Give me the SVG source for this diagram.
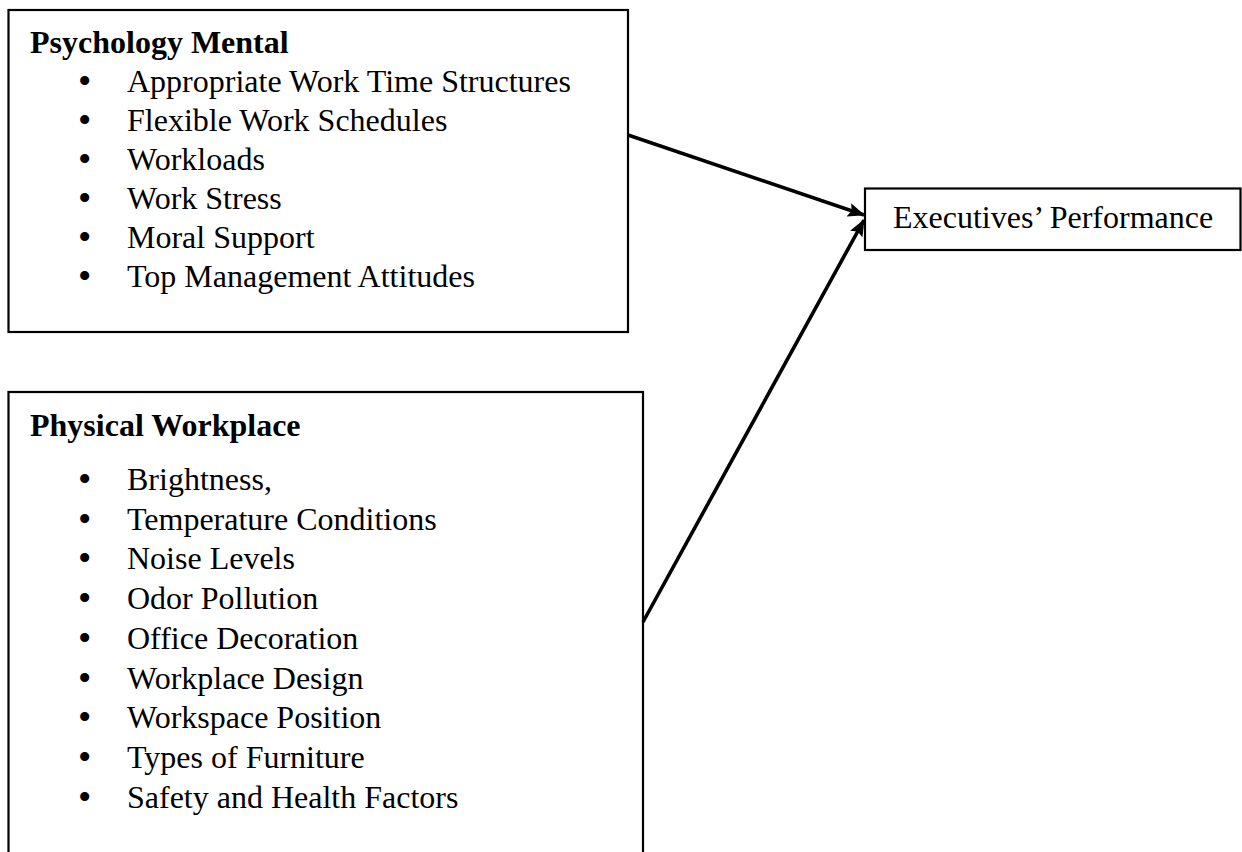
<svg xmlns="http://www.w3.org/2000/svg" width="1242" height="852" viewBox="0 0 1242 852">
<style>
.box{fill:#fff;stroke:#000;stroke-width:2.2}
.t{font-family:"Liberation Serif","Times New Roman",serif;font-size:32px;fill:#000}
.b{font-weight:bold}
.bl{font-family:"Liberation Serif","Times New Roman",serif;font-size:38px;fill:#000}
.con{stroke:#000;stroke-width:3.6;fill:none}
</style>
<defs>
<marker id="ah" markerWidth="17" markerHeight="14" refX="16" refY="7" orient="auto" markerUnits="userSpaceOnUse">
<path d="M0,0 L17,7 L0,14 L3,7 z" fill="#000"/>
</marker>
</defs>
<rect width="1242" height="852" fill="#fff"/>
<g id="psychology">
<rect class="box" x="8.5" y="10" width="619.5" height="322"/>
<text class="t b" x="30" y="53">Psychology Mental</text>
<g class="bl">
<text x="78" y="94">•</text><text x="78" y="133">•</text><text x="78" y="172">•</text>
<text x="78" y="211">•</text><text x="78" y="250">•</text><text x="78" y="289">•</text>
</g>
<g class="t">
<text x="127" y="92">Appropriate Work Time Structures</text>
<text x="127" y="131">Flexible Work Schedules</text>
<text x="127" y="170">Workloads</text>
<text x="127" y="209">Work Stress</text>
<text x="127" y="248">Moral Support</text>
<text x="127" y="287">Top Management Attitudes</text>
</g>
</g>
<g id="physical">
<rect class="box" x="8.5" y="392" width="634.5" height="470"/>
<text class="t b" x="30" y="436">Physical Workplace</text>
<g class="bl">
<text x="78" y="492">•</text><text x="78" y="532">•</text><text x="78" y="571">•</text>
<text x="78" y="611">•</text><text x="78" y="651">•</text><text x="78" y="691">•</text>
<text x="78" y="730">•</text><text x="78" y="770">•</text><text x="78" y="810">•</text>
</g>
<g class="t">
<text x="127" y="490">Brightness,</text>
<text x="127" y="530">Temperature Conditions</text>
<text x="127" y="569">Noise Levels</text>
<text x="127" y="609">Odor Pollution</text>
<text x="127" y="649">Office Decoration</text>
<text x="127" y="689">Workplace Design</text>
<text x="127" y="728">Workspace Position</text>
<text x="127" y="768">Types of Furniture</text>
<text x="127" y="808">Safety and Health Factors</text>
</g>
</g>
<g id="performance">
<rect class="box" x="865" y="188.5" width="375.5" height="61.5"/>
<text class="t" x="893" y="228" font-size="33">Executives’ Performance</text>
</g>
<g id="connectors">
<line class="con" x1="628" y1="135" x2="864" y2="215" marker-end="url(#ah)"/>
<line class="con" x1="643" y1="622" x2="864" y2="220" marker-end="url(#ah)"/>
</g>
</svg>
